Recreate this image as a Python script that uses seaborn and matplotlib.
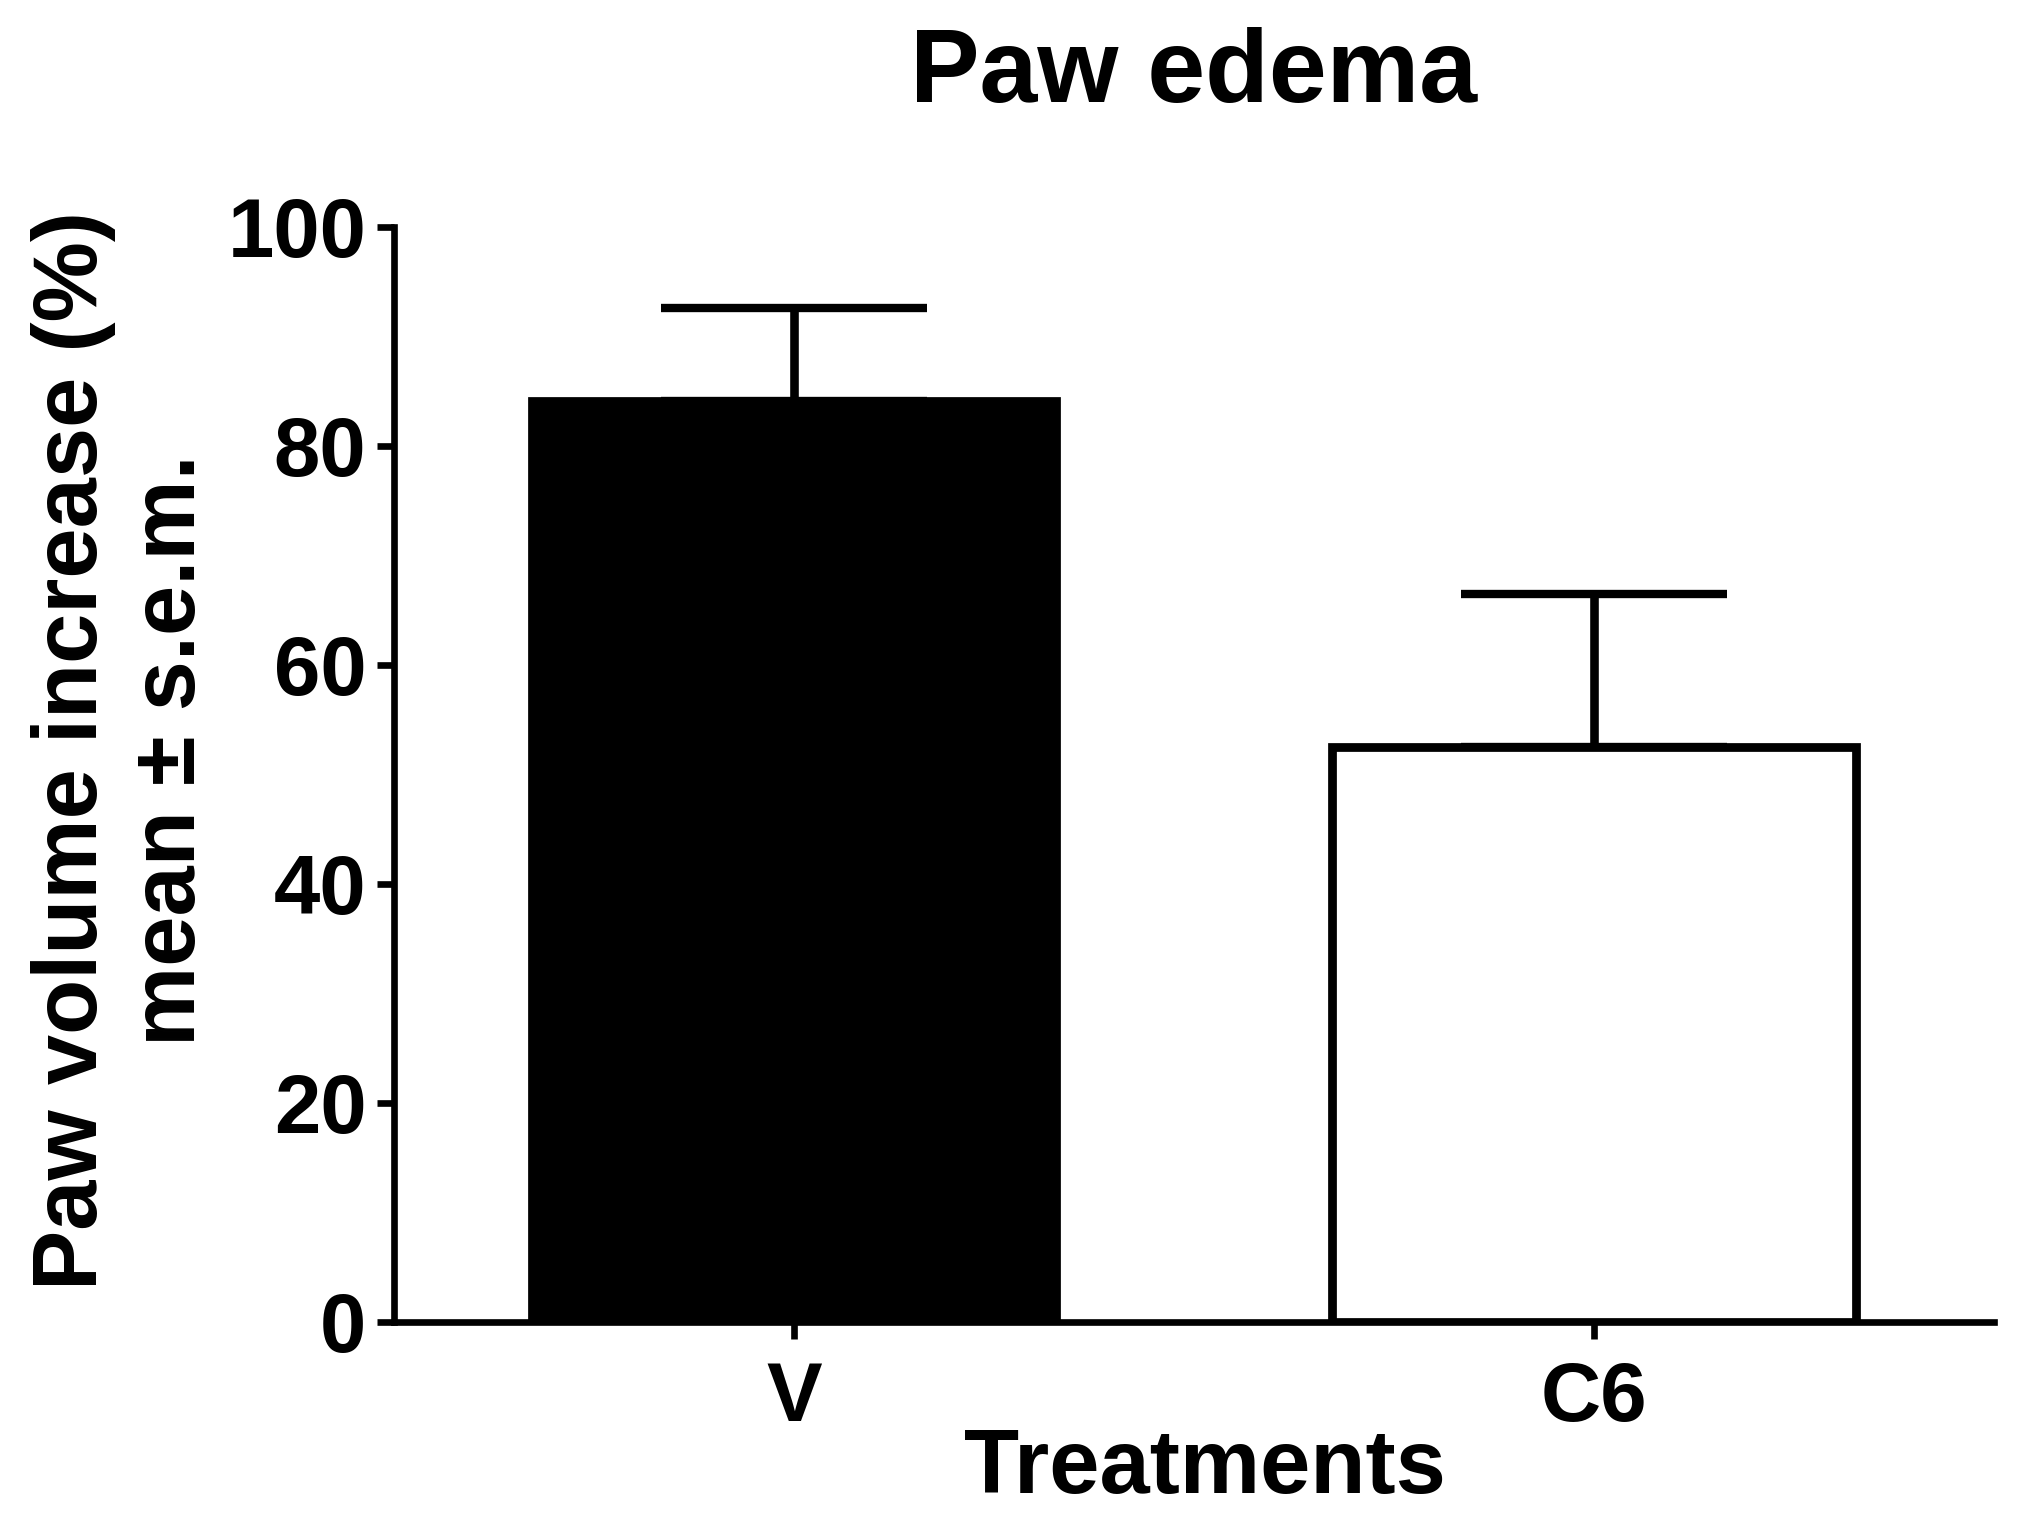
import pandas as pd
import seaborn as sns
import matplotlib.pyplot as plt

# Values (mean and upper s.e.m.)
treatments = ['V', 'C6']
means = [84.1, 52.5]
sems = [8.5, 14.0]
bar_colors = ['black', 'white']

df = pd.DataFrame({'Treatment': treatments, 'Mean': means})

sns.set_style('ticks')
plt.rcParams['font.family'] = ['Liberation Sans', 'DejaVu Sans']
plt.rcParams['font.weight'] = 'bold'
plt.rcParams['axes.labelweight'] = 'bold'
plt.rcParams['axes.titleweight'] = 'bold'

fig = plt.figure(figsize=(20.25, 15.23), dpi=100)
ax = fig.add_axes([0.1946, 0.1323, 0.7901, 0.7187])

sns.barplot(data=df, x='Treatment', y='Mean', hue='Treatment',
            palette=dict(zip(treatments, bar_colors)), legend=False,
            width=0.656, edgecolor='black', linewidth=6.3,
            errorbar=None, ax=ax)

# one-sided error bars (upper s.e.m. only)
ax.errorbar(x=list(range(len(treatments))), y=means,
            yerr=[[0] * len(sems), sems], fmt='none', ecolor='black',
            elinewidth=6.2, capsize=96, capthick=6.0, zorder=0.5)

ax.set_xlim(-0.5, 1.5)
ax.set_ylim(0, 100)
ax.set_yticks([0, 20, 40, 60, 80, 100])

sns.despine(ax=ax)
for side in ['left', 'bottom']:
    ax.spines[side].set_linewidth(4.8)
    ax.spines[side].set_color('black')

ax.tick_params(axis='both', direction='out', length=12, width=4.8,
               color='black', labelsize=60, labelcolor='black')
ax.tick_params(axis='x', pad=16)
ax.tick_params(axis='y', pad=8)

ax.set_title('Paw edema', fontsize=75, pad=90, color='black')
ax.set_xlabel('Treatments', fontsize=65, color='black')
ax.set_ylabel('Paw volume increase (%)\nmean \u00b1 s.e.m.', fontsize=65,
              color='black')
ax.xaxis.set_label_coords(0.507, -0.0964)
ax.yaxis.set_label_coords(-0.1125, 0.522)

fig.savefig('out.png', dpi=100)
